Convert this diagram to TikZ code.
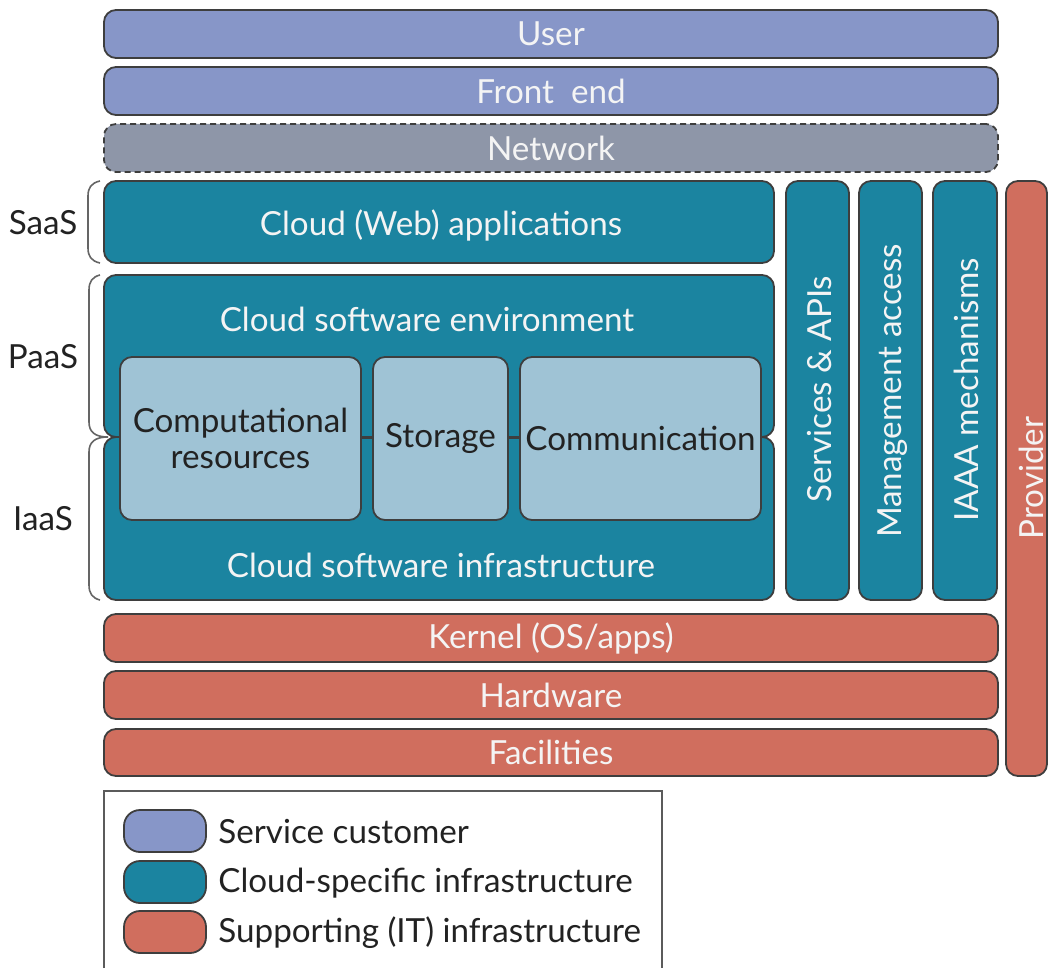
\documentclass[tikz,border=0pt]{standalone}
\usepackage{fontspec}
\setmainfont{Lato}
\definecolor{cust}{HTML}{8796C8}
\definecolor{netc}{HTML}{8E96A8}
\definecolor{teal}{HTML}{1B84A0}
\definecolor{light}{HTML}{9FC3D5}
\definecolor{sup}{HTML}{D06E5E}
\definecolor{edge}{HTML}{3E3E3E}
\definecolor{wtext}{HTML}{F4F4F4}
\definecolor{dtext}{HTML}{222222}
\begin{document}
\begin{tikzpicture}[x=0.5pt,y=-0.5pt,
  txt/.style={font=\fontsize{16.6}{19}\selectfont},
  box/.style={draw=edge,line width=0.9pt,rounded corners=6pt,inner sep=0pt,text=wtext,txt},
  custbox/.style={box,fill=cust},
  netbox/.style={box,fill=netc,dashed,dash pattern=on 3pt off 2pt},
  tealbox/.style={box,fill=teal},
  lightbox/.style={box,fill=light,text=dtext,align=center},
  supbox/.style={box,fill=sup},
  lbl/.style={inner sep=0pt,text=wtext,txt},
  side/.style={inner sep=0pt,text=dtext,txt},
  brace/.style={draw=edge!80,line width=0.8pt},
  link/.style={draw=edge,line width=0.9pt},
  swatch/.style={draw=edge,line width=0.9pt,rounded corners=8pt,minimum width=41pt,minimum height=21pt,inner sep=0pt},
  legtext/.style={inner sep=0pt,anchor=west,text=dtext,txt}
]
\useasboundingbox (0,0) rectangle (1048,968);
% top layers
\node[custbox,minimum width=447pt,minimum height=24pt] (user) at (551,34) {User};
\node[custbox,minimum width=447pt,minimum height=24pt] (front) at (551,91) {Front\ \ end};
\node[netbox,minimum width=447pt,minimum height=24pt] (net) at (551,148) {Network};
% cloud stack
\node[tealbox,minimum width=335pt,minimum height=41pt] (saas) at (439,222) {};
\node[lbl] (saast) at (441,225) {Cloud (Web) applications};
\node[tealbox,minimum width=335pt,minimum height=81pt] (env) at (439,356) {};
\node[tealbox,minimum width=335pt,minimum height=81.5pt] (infra) at (439,518.5) {};
\node[lbl] (envt) at (427,319) {Cloud software environment};
\node[lbl] (infrat) at (441,565) {Cloud software infrastructure};
\node[lightbox,minimum width=120.5pt,minimum height=81.5pt] (comp) at (240.5,438.5) {Computational\\[-1pt]resources};
\node[lightbox,minimum width=67.5pt,minimum height=81.5pt] (stor) at (440.5,438.5) {Storage};
\node[lightbox,minimum width=120.5pt,minimum height=81.5pt] (comm) at (640.5,438.5) {Communication};
\draw[link] (comp.east) -- (stor.west);
\draw[link] (stor.east) -- (comm.west);
% vertical columns
\node[tealbox,minimum width=31.5pt,minimum height=209.5pt] (svc) at (817.5,390.5) {};
\node[tealbox,minimum width=31.5pt,minimum height=209.5pt] (mgmt) at (890.5,390.5) {};
\node[tealbox,minimum width=32pt,minimum height=209.5pt] (iaaa) at (965,390.5) {};
\node[lbl,rotate=90] (svct) at (820,389) {Services \& APIs};
\node[lbl,rotate=90] (mgmtt) at (893,391) {Management access};
\node[lbl,rotate=90] (iaaat) at (966,390) {IAAA mechanisms};
\node[supbox,minimum width=20.5pt,minimum height=297.5pt] (prov) at (1026.5,478.5) {};
\node[lbl,rotate=90] (provt) at (1031,478) {Provider};
% supporting layers
\node[supbox,minimum width=447pt,minimum height=24pt] (kernel) at (551,638) {Kernel (OS/apps)};
\node[supbox,minimum width=447pt,minimum height=24pt] (hw) at (551,695) {Hardware};
\node[supbox,minimum width=447pt,minimum height=23.5pt] (fac) at (551,752.5) {Facilities};
% braces and labels
\draw[brace] (100,181) .. controls (91,183) and (88,188) .. (88,196) -- (88,248) .. controls (88,256) and (91,261) .. (100,263);
\draw[brace] (100,275) .. controls (92,277) and (89,282) .. (89,290) -- (89,422) .. controls (89,432) and (95,437) .. (108,437);
\draw[brace] (108,437) .. controls (95,437) and (89,442) .. (89,452) -- (89,585) .. controls (89,593) and (92,598) .. (100,600);
\node[side] (saasl) at (43,223) {SaaS};
\node[side] (paasl) at (43,357) {PaaS};
\node[side] (iaasl) at (43,519) {IaaS};
% legend
\draw[draw=edge!85,line width=0.8pt] (104,968) -- (104,791) -- (662,791) -- (662,968);
\node[swatch,fill=cust] (lg1) at (165,831) {};
\node[swatch,fill=teal] (lg2) at (165,882) {};
\node[swatch,fill=sup] (lg3) at (165,932) {};
\node[legtext] (lt1) at (218,832) {Service customer};
\node[legtext] (lt2) at (218,883) {Cloud-specific infrastructure};
\node[legtext] (lt3) at (218,933) {Supporting (IT) infrastructure};
\end{tikzpicture}
\end{document}
